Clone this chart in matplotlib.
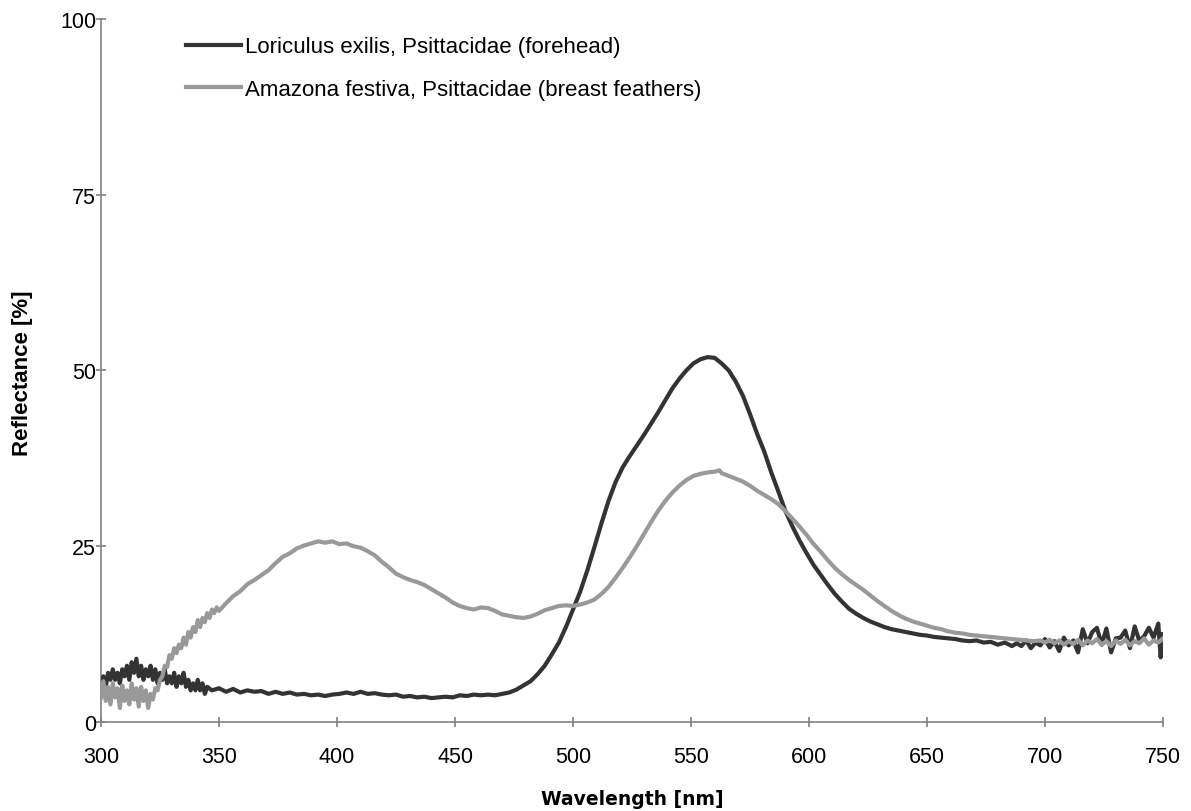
import matplotlib

matplotlib.use("Agg")
import matplotlib.pyplot as plt

plt.rcParams["font.family"] = ["Liberation Sans", "DejaVu Sans"]

# Loriculus exilis (forehead) - dark curve
lor_nm = [
    300, 301, 302, 303, 304, 305, 306, 307, 308, 309, 310, 311, 312, 313, 314,
    315, 316, 317, 318, 319, 320, 321, 322, 323, 324, 325, 326, 327, 328, 329,
    330, 331, 332, 333, 334, 335, 336, 337, 338, 339, 340, 341, 342, 343, 344,
    345, 347, 350, 353, 356, 359, 362, 365, 368, 371, 374, 377, 380, 383, 386,
    389, 392, 395, 398, 401, 404, 407, 410, 413, 416, 419, 422, 425, 428, 431,
    434, 437, 440, 443, 446, 449, 452, 455, 458, 461, 464, 467, 470, 473, 476,
    479, 482, 485, 488, 491, 494, 497, 500, 503, 506, 509, 512, 515, 518, 521,
    524, 527, 530, 533, 536, 539, 542, 545, 548, 551, 554, 557, 560, 563, 566,
    569, 572, 575, 578, 581, 584, 587, 590, 593, 596, 599, 602, 605, 608, 611,
    614, 617, 620, 623, 626, 629, 632, 635, 638, 641, 644, 647, 650, 653, 656,
    659, 662, 665, 668, 671, 674, 677, 680, 683, 686, 688, 690, 692, 694, 696,
    698, 700, 702, 704, 706, 708, 710, 712, 714, 716, 718, 720, 722, 724, 726,
    728, 730, 732, 734, 736, 738, 740, 742, 744, 746, 748, 749, 750,
]
lor_refl = [
    5.5, 6.5, 5.0, 7.0, 6.0, 7.5, 6.0, 7.0, 5.5, 7.5, 6.5, 8.0, 6.0, 8.5, 7.0,
    9.0, 6.5, 8.0, 6.0, 7.5, 6.5, 8.0, 6.0, 7.5, 5.5, 7.0, 6.0, 7.5, 5.5, 6.5,
    5.5, 7.0, 5.0, 6.5, 5.5, 7.0, 5.0, 6.0, 4.5, 5.5, 4.5, 6.0, 4.5, 5.5, 4.0,
    5.0, 4.5, 4.8, 4.3, 4.7, 4.2, 4.5, 4.3, 4.4, 4.0, 4.3, 4.0, 4.2, 3.9, 4.0,
    3.8, 3.9, 3.7, 3.9, 4.0, 4.2, 4.0, 4.3, 4.0, 4.1, 3.9, 3.8, 3.9, 3.6, 3.7,
    3.5, 3.6, 3.4, 3.5, 3.6, 3.5, 3.8, 3.7, 3.9, 3.8, 3.9, 3.8, 4.0, 4.2, 4.6,
    5.2, 5.8, 6.8, 8.0, 9.6, 11.3, 13.5, 16.0, 18.5, 21.5, 24.8, 28.2, 31.4, 34.1, 36.2,
    37.8, 39.3, 40.8, 42.4, 44.0, 45.7, 47.4, 48.8, 50.0, 51.0, 51.6, 51.9, 51.8, 51.0, 50.0,
    48.4, 46.4, 43.8, 41.0, 38.5, 35.5, 32.8, 30.0, 27.8, 25.8, 24.0, 22.3, 20.9, 19.5, 18.2,
    17.1, 16.1, 15.4, 14.8, 14.3, 13.9, 13.5, 13.2, 13.0, 12.8, 12.6, 12.4, 12.3, 12.1, 12.0,
    11.9, 11.8, 11.6, 11.5, 11.6, 11.3, 11.4, 11.0, 11.3, 10.8, 11.2, 10.8, 11.6, 10.5, 11.3,
    10.9, 11.8, 10.6, 11.5, 10.1, 12.0, 10.9, 11.6, 9.9, 13.2, 11.2, 12.8, 13.4, 11.0, 13.3,
    9.9, 11.9, 12.0, 13.0, 10.5, 13.6, 11.5, 12.2, 13.4, 12.0, 14.0, 9.2, 12.5,
]

# Amazona festiva (breast feathers) - grey curve
ama_nm = [
    300, 301, 302, 303, 304, 305, 306, 307, 308, 309, 310, 311, 312, 313, 314,
    315, 316, 317, 318, 319, 320, 321, 322, 323, 324, 325, 326, 327, 328, 329,
    330, 331, 332, 333, 334, 335, 336, 337, 338, 339, 340, 341, 342, 343, 344,
    345, 346, 347, 348, 349, 350, 353, 356, 359, 362, 365, 368, 371, 374, 377,
    380, 383, 386, 389, 392, 395, 398, 401, 404, 407, 410, 413, 416, 419, 422,
    425, 428, 431, 434, 437, 440, 443, 446, 449, 452, 455, 458, 461, 464, 467,
    470, 473, 476, 479, 482, 485, 488, 491, 494, 497, 500, 503, 506, 509, 512,
    515, 518, 521, 524, 527, 530, 533, 536, 539, 542, 545, 548, 551, 554, 557,
    560, 562, 563, 566, 569, 572, 575, 578, 581, 584, 587, 590, 593, 596, 599,
    602, 605, 608, 611, 614, 617, 620, 623, 626, 629, 632, 635, 638, 641, 644,
    647, 650, 653, 656, 659, 662, 665, 668, 671, 674, 677, 680, 683, 686, 689,
    692, 695, 698, 700, 702, 704, 706, 708, 710, 712, 714, 716, 718, 720, 722,
    724, 726, 728, 730, 732, 734, 736, 738, 740, 742, 744, 746, 748, 750,
]
ama_refl = [
    3.5, 5.8, 3.0, 5.0, 2.5, 5.5, 3.5, 4.8, 2.0, 5.2, 3.0, 4.5, 2.5, 5.5, 3.2,
    4.8, 2.2, 5.0, 3.0, 4.5, 2.0, 4.0, 3.2, 4.8, 4.5, 6.0, 6.5, 8.0, 7.8, 9.5,
    9.0, 10.5, 9.8, 11.0, 10.5, 12.0, 11.0, 12.8, 12.0, 13.5, 12.8, 14.5, 13.5, 14.8, 14.2,
    15.5, 14.8, 16.0, 15.5, 16.3, 15.8, 16.9, 17.9, 18.6, 19.6, 20.2, 20.9, 21.6, 22.6, 23.5,
    24.0, 24.7, 25.1, 25.4, 25.7, 25.5, 25.7, 25.3, 25.4, 25.0, 24.8, 24.3, 23.7, 22.8, 22.0,
    21.1, 20.6, 20.2, 19.9, 19.5, 18.9, 18.3, 17.7, 17.0, 16.5, 16.2, 16.0, 16.3, 16.2, 15.8,
    15.3, 15.1, 14.9, 14.8, 15.0, 15.4, 15.9, 16.2, 16.5, 16.6, 16.5, 16.7, 17.0, 17.4, 18.2,
    19.2, 20.5, 21.9, 23.4, 25.0, 26.7, 28.4, 30.0, 31.4, 32.6, 33.6, 34.4, 35.0, 35.3, 35.5,
    35.6, 35.8, 35.4, 35.0, 34.6, 34.2, 33.6, 32.9, 32.3, 31.7, 31.0, 30.0, 28.9, 27.8, 26.6,
    25.3, 24.2, 23.0, 21.9, 21.0, 20.2, 19.5, 18.8, 18.0, 17.2, 16.5, 15.8, 15.2, 14.7, 14.3,
    14.0, 13.7, 13.4, 13.2, 12.9, 12.7, 12.6, 12.4, 12.3, 12.2, 12.1, 12.0, 11.9, 11.8, 11.7,
    11.6, 11.5, 11.6, 11.3, 11.7, 11.2, 11.6, 11.0, 11.5, 11.1, 11.7, 10.9, 11.6, 11.2, 11.8,
    11.0, 11.5, 10.8, 11.6, 11.1, 11.7, 10.9, 11.5, 11.2, 11.9, 11.0, 11.6, 11.3, 11.9,
]

x_ticks = [300, 350, 400, 450, 500, 550, 600, 650, 700, 750]
y_ticks = [0, 25, 50, 75, 100]

fig = plt.figure(figsize=(11.91, 8.12), dpi=100)
ax = fig.add_axes([0.0848, 0.1096, 0.8917, 0.8658])

ax.plot(lor_nm, lor_refl, color="#333333", lw=3, zorder=2,
        label="Loriculus exilis, Psittacidae (forehead)")
ax.plot(ama_nm, ama_refl, color="#999999", lw=3, zorder=3,
        label="Amazona festiva, Psittacidae (breast feathers)")

ax.set_xlim(300, 750)
ax.set_ylim(0, 100)
ax.set_xticks(x_ticks)
ax.set_yticks(y_ticks)
for s in ("top", "right"):
    ax.spines[s].set_visible(False)
for s in ("left", "bottom"):
    ax.spines[s].set_color("#808080")
    ax.spines[s].set_linewidth(1.2)
    ax.spines[s].set_zorder(1)
ax.tick_params(direction="inout", length=7, width=1.2, color="#808080",
               labelsize=15.5, labelcolor="black")
ax.tick_params(axis="x", pad=14)
ax.tick_params(axis="y", pad=0)

fig.text(632 / 1191, 1 - 800 / 812, "Wavelength [nm]", ha="center", va="center",
         fontsize=13.5, fontweight="bold", family="DejaVu Sans")
fig.text(23 / 1191, 1 - 373 / 812, "Reflectance [%]", ha="center", va="center",
         rotation=90, fontsize=16, fontweight="bold")

ax.legend(loc="upper left", bbox_to_anchor=(0.072, 0.988), frameon=False,
          fontsize=16, handlelength=2.48, handletextpad=0.14, labelspacing=0.96,
          borderaxespad=0)

fig.savefig("out.png", dpi=100)
